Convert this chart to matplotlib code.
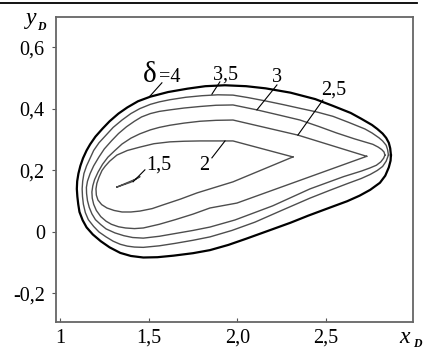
import matplotlib
matplotlib.use("Agg")
import matplotlib.pyplot as plt

# contour delta = 4 (outer, thick)
x_d40 = [2.867, 2.863, 2.855, 2.84, 2.82, 2.79, 2.76, 2.70, 2.64, 2.54, 2.44, 2.30, 2.16, 2.05,
         1.93, 1.82, 1.72, 1.61, 1.51, 1.44, 1.38, 1.33, 1.28, 1.24, 1.20, 1.17, 1.15, 1.13,
         1.115, 1.104, 1.097, 1.095, 1.098, 1.103, 1.11, 1.128, 1.15, 1.185, 1.23, 1.28, 1.34,
         1.40, 1.47, 1.55, 1.64, 1.75, 1.846, 1.95, 2.05, 2.18, 2.30, 2.40, 2.54, 2.62, 2.69,
         2.75, 2.805, 2.835, 2.855, 2.865, 2.867]
y_d40 = [0.25, 0.272, 0.29, 0.306, 0.32, 0.335, 0.348, 0.368, 0.387, 0.41, 0.432, 0.453, 0.467, 0.474,
         0.477, 0.474, 0.466, 0.455, 0.44, 0.425, 0.405, 0.385, 0.36, 0.336, 0.31, 0.285, 0.265, 0.24,
         0.215, 0.19, 0.165, 0.14, 0.115, 0.09, 0.065, 0.038, 0.015, -0.008, -0.03, -0.05, -0.068,
         -0.078, -0.083, -0.082, -0.077, -0.069, -0.059, -0.042, -0.022, 0.005, 0.03, 0.053, 0.083, 0.10, 0.118,
         0.137, 0.16, 0.183, 0.21, 0.232, 0.25]

# delta = 3.5
x_d35 = [2.853, 2.848, 2.84, 2.82, 2.80, 2.76, 2.72, 2.63, 2.54, 2.45, 2.354, 2.26, 2.16, 2.06,
         1.976, 1.89, 1.80, 1.71, 1.62, 1.56, 1.51, 1.45, 1.40, 1.35, 1.30, 1.26, 1.22, 1.19,
         1.17, 1.15, 1.135, 1.128, 1.125, 1.127, 1.132, 1.143, 1.16, 1.19, 1.22, 1.26, 1.30, 1.34,
         1.38, 1.42, 1.47, 1.56, 1.65, 1.75, 1.846, 1.97, 2.10, 2.25, 2.41, 2.52, 2.62, 2.70,
         2.75, 2.79, 2.82, 2.84, 2.853]
y_d35 = [0.25, 0.268, 0.282, 0.296, 0.306, 0.322, 0.335, 0.356, 0.376, 0.39, 0.402, 0.414, 0.426, 0.437,
         0.445, 0.446, 0.443, 0.438, 0.43, 0.423, 0.415, 0.401, 0.385, 0.364, 0.34, 0.315, 0.29, 0.265,
         0.24, 0.215, 0.19, 0.165, 0.14, 0.115, 0.09, 0.063, 0.04, 0.018, 0.0, -0.016, -0.03, -0.04,
         -0.046, -0.049, -0.05, -0.045, -0.037, -0.027, -0.016, 0.005, 0.032, 0.07, 0.11, 0.135, 0.157, 0.174,
         0.187, 0.20, 0.213, 0.23, 0.25]

# delta = 3
x_d30 = [2.833, 2.828, 2.815, 2.795, 2.765, 2.66, 2.56, 2.46, 2.354, 2.23, 2.111, 1.976, 1.88, 1.79,
         1.70, 1.62, 1.56, 1.51, 1.46, 1.42, 1.375, 1.33, 1.29, 1.25, 1.22, 1.19, 1.17, 1.155,
         1.149, 1.15, 1.155, 1.165, 1.18, 1.20, 1.23, 1.26, 1.31, 1.36, 1.41, 1.47, 1.56, 1.65,
         1.75, 1.846, 1.987, 2.20, 2.41, 2.60, 2.70, 2.748, 2.785, 2.81, 2.826, 2.833]
y_d30 = [0.25, 0.26, 0.268, 0.276, 0.285, 0.303, 0.322, 0.343, 0.364, 0.381, 0.397, 0.413, 0.412, 0.408,
         0.403, 0.397, 0.392, 0.385, 0.374, 0.36, 0.342, 0.32, 0.296, 0.27, 0.244, 0.215, 0.19, 0.165,
         0.145, 0.125, 0.102, 0.08, 0.059, 0.04, 0.024, 0.01, -0.003, -0.012, -0.018, -0.02, -0.014, -0.005,
         0.005, 0.016, 0.039, 0.085, 0.14, 0.18, 0.198, 0.208, 0.217, 0.228, 0.24, 0.25]

# delta = 2.5
x_d25 = [2.73, 2.342, 1.976, 1.88, 1.79, 1.70, 1.62, 1.56, 1.51, 1.45, 1.40, 1.35, 1.31, 1.27,
         1.24, 1.215, 1.195, 1.185, 1.18, 1.182, 1.19, 1.205, 1.23, 1.26, 1.29, 1.33, 1.37, 1.42,
         1.47, 1.56, 1.65, 1.75, 1.846, 1.998, 2.73]
y_d25 = [0.246, 0.315, 0.364, 0.363, 0.36, 0.354, 0.347, 0.34, 0.332, 0.319, 0.305, 0.286, 0.265, 0.243,
         0.22, 0.195, 0.17, 0.15, 0.13, 0.11, 0.09, 0.07, 0.05, 0.035, 0.025, 0.017, 0.013, 0.011,
         0.013, 0.025, 0.04, 0.058, 0.078, 0.094, 0.246]

# delta = 2
x_d20 = [2.314, 1.976, 1.88, 1.79, 1.70, 1.62, 1.53, 1.451, 1.38, 1.321, 1.28, 1.255, 1.237, 1.22,
         1.208, 1.203, 1.205, 1.214, 1.235, 1.265, 1.305, 1.35, 1.40, 1.451, 1.52, 1.581, 1.68, 1.773,
         1.88, 1.976, 2.314]
y_d20 = [0.244, 0.296, 0.296, 0.296, 0.295, 0.293, 0.287, 0.276, 0.265, 0.25, 0.23, 0.214, 0.20, 0.178,
         0.158, 0.14, 0.12, 0.104, 0.089, 0.078, 0.07, 0.065, 0.065, 0.068, 0.076, 0.088, 0.107, 0.127,
         0.146, 0.163, 0.244]

# delta = 1.5 (thin sliver)
x_d15 = [1.321, 1.42, 1.451, 1.40, 1.321]
y_d15 = [0.146, 0.170, 0.180, 0.162, 0.146]

x_ticks = [1.0, 1.5, 2.0, 2.5]
x_tick_labels = ["1", "1,5", "2,0", "2,5"]
y_ticks = [-0.2, 0.0, 0.2, 0.4, 0.6]
y_tick_labels = ["-0,2", "0", "0,2", "0,4", "0,6"]

# label text, text anchor (x, y), leader start, leader end
labels = ["=4", "3,5", "3", "2,5", "2", "1,5"]
label_xy = [(1.56, 0.488), (1.865, 0.494), (2.197, 0.488), (2.475, 0.446), (1.785, 0.202), (1.487, 0.202)]
leader_start = [(1.575, 0.485), (1.902, 0.488), (2.224, 0.478), (2.483, 0.429), (1.857, 0.241), (1.479, 0.202)]
leader_end = [(1.508, 0.442), (1.857, 0.448), (2.111, 0.397), (2.342, 0.315), (1.931, 0.296), (1.412, 0.163)]

SERIF = "Liberation Serif"
FS = 14.5


def draw_contours(ax):

    ax.plot(x_d40, y_d40, color = "black", linewidth = 1.6, solid_joinstyle = "round")
    for xs, ys in [(x_d35, y_d35), (x_d30, y_d30), (x_d25, y_d25), (x_d20, y_d20), (x_d15, y_d15)]:
        ax.plot(xs, ys, color = "#4d4d4d", linewidth = 1.0, solid_joinstyle = "round")


def draw_labels(ax):

    for text, (tx, ty), (sx, sy), (ex, ey) in zip(labels, label_xy, leader_start, leader_end):
        ax.plot([sx, ex], [sy, ey], color = "black", linewidth = 0.8)
        ax.text(tx, ty, text, fontsize = FS, family = SERIF, ha = "left", va = "baseline")

    # the delta sign is drawn bigger than the number
    ax.text(1.466, 0.488, "\u03b4", fontsize = 21, family = SERIF, ha = "left", va = "baseline")


def main():

    fig = plt.figure(figsize = (4.29, 3.51), dpi = 100)
    ax = fig.add_axes([0.1305, 0.0826, 0.832, 0.869])

    draw_contours(ax)
    draw_labels(ax)

    ax.set_xlim(0.9774, 2.991)
    ax.set_ylim(-0.2927, 0.699)

    ax.set_xticks(x_ticks)
    ax.set_xticklabels(x_tick_labels, family = SERIF, fontsize = FS)
    ax.set_yticks(y_ticks)
    ax.set_yticklabels(y_tick_labels, family = SERIF, fontsize = FS)
    ax.tick_params(axis = "x", direction = "in", length = 3, width = 0.8, pad = 5, colors = "#555555", labelcolor = "black")
    ax.tick_params(axis = "y", direction = "out", length = 3, width = 0.8, pad = 5, colors = "#555555", labelcolor = "black")

    for spine in ax.spines.values():
        spine.set_color("#666666")
        spine.set_linewidth(1.3)

    # axis names: italic letter with small bold subscript
    fig.text(26 / 429, 1 - 24 / 351, "y", family = SERIF, style = "italic", fontsize = 17, va = "baseline")
    fig.text(37 / 429, 1 - 30 / 351, "D", family = SERIF, style = "italic", weight = "bold", fontsize = 8.5, va = "baseline")
    fig.text(399 / 429, 1 - 343 / 351, "x", family = SERIF, style = "italic", fontsize = 17, va = "baseline")
    fig.text(413 / 429, 1 - 347 / 351, "D", family = SERIF, style = "italic", weight = "bold", fontsize = 8.5, va = "baseline")

    # border line across the top of the picture
    fig.add_artist(plt.Line2D([0.0, 417 / 429], [1 - 3 / 351, 1 - 3 / 351], color = "black", linewidth = 1.3))

    fig.savefig("out.png", dpi = 100)
    plt.close(fig)


if __name__ == "__main__":
    main()
